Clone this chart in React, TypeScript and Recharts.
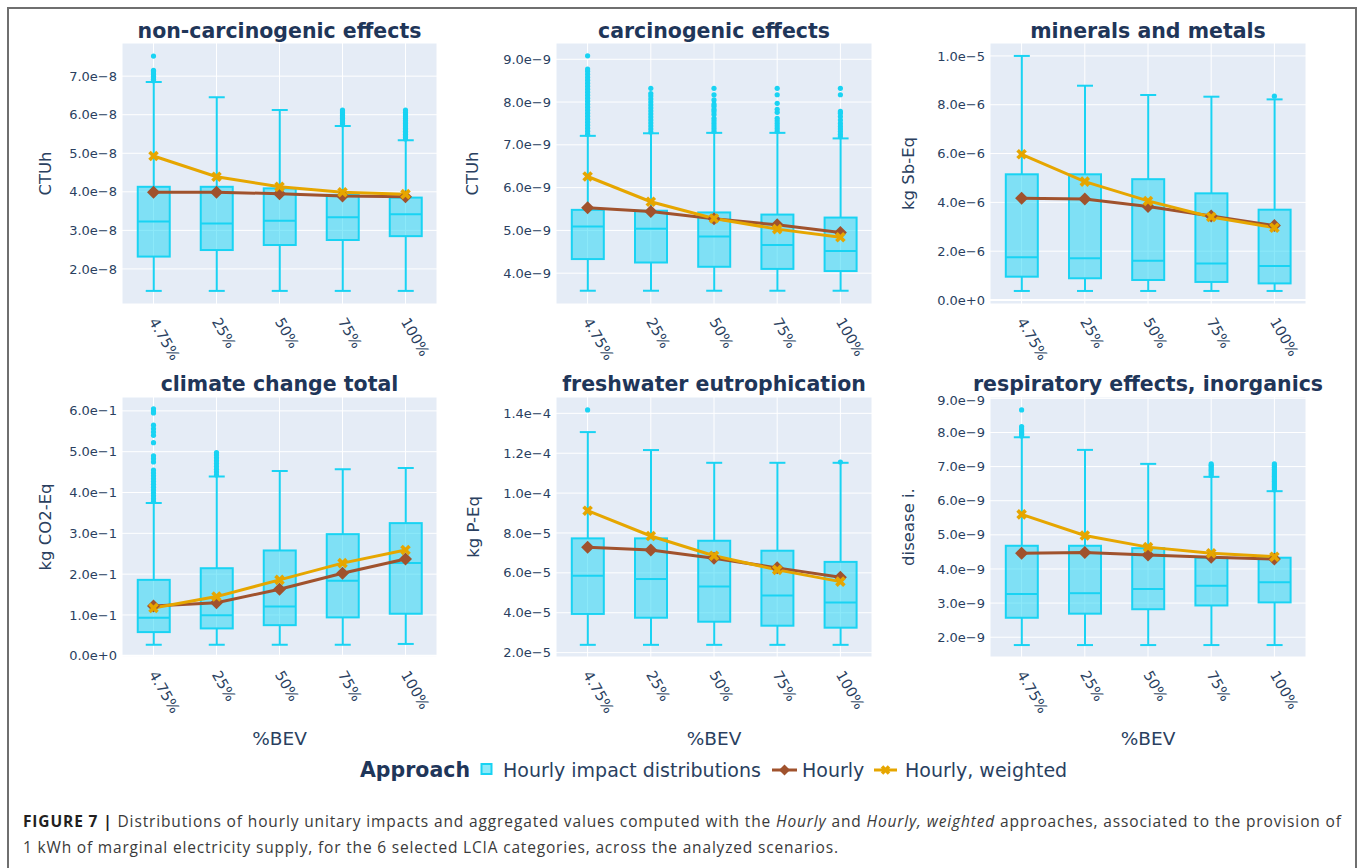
import React from "react";
import {
  Bar,
  CartesianGrid,
  ComposedChart,
  Line,
  ReferenceLine,
  Scatter,
  XAxis,
  YAxis,
} from "recharts";

const CATEGORIES = ["4.75%", "25%", "50%", "75%", "100%"];

// non-carcinogenic effects (CTUh)
const NONCARC_LOW = [1.43e-8, 1.43e-8, 1.43e-8, 1.43e-8, 1.43e-8];
const NONCARC_Q1 = [2.32e-8, 2.49e-8, 2.62e-8, 2.75e-8, 2.85e-8];
const NONCARC_MED = [3.23e-8, 3.18e-8, 3.25e-8, 3.34e-8, 3.42e-8];
const NONCARC_Q3 = [4.13e-8, 4.13e-8, 4.09e-8, 3.92e-8, 3.85e-8];
const NONCARC_HIGH = [6.85e-8, 6.45e-8, 6.12e-8, 5.71e-8, 5.34e-8];
const NONCARC_HOURLY = [3.99e-8, 3.99e-8, 3.95e-8, 3.89e-8, 3.87e-8];
const NONCARC_WEIGHTED = [4.93e-8, 4.39e-8, 4.13e-8, 3.99e-8, 3.94e-8];
const NONCARC_OUTLIERS = [
  [6.88e-8, 6.92e-8, 6.96e-8, 7.0e-8, 7.04e-8, 7.08e-8, 7.12e-8, 7.15e-8, 7.52e-8],
  [],
  [],
  [5.74e-8, 5.78e-8, 5.82e-8, 5.86e-8, 5.9e-8, 5.94e-8, 5.98e-8, 6.02e-8, 6.07e-8, 6.12e-8],
  [
    5.37e-8, 5.41e-8, 5.45e-8, 5.49e-8, 5.53e-8, 5.57e-8, 5.61e-8, 5.65e-8, 5.69e-8,
    5.73e-8, 5.77e-8, 5.81e-8, 5.85e-8, 5.9e-8, 5.95e-8, 6.0e-8, 6.06e-8, 6.12e-8,
  ],
];

// carcinogenic effects (CTUh)
const CARC_LOW = [3.59e-9, 3.59e-9, 3.59e-9, 3.59e-9, 3.59e-9];
const CARC_Q1 = [4.33e-9, 4.25e-9, 4.15e-9, 4.1e-9, 4.05e-9];
const CARC_MED = [5.09e-9, 5.04e-9, 4.86e-9, 4.66e-9, 4.52e-9];
const CARC_Q3 = [5.48e-9, 5.46e-9, 5.42e-9, 5.37e-9, 5.3e-9];
const CARC_HIGH = [7.21e-9, 7.27e-9, 7.28e-9, 7.28e-9, 7.15e-9];
const CARC_HOURLY = [5.53e-9, 5.44e-9, 5.27e-9, 5.13e-9, 4.95e-9];
const CARC_WEIGHTED = [6.26e-9, 5.67e-9, 5.28e-9, 5.03e-9, 4.84e-9];
const CARC_OUTLIERS = [
  [
    7.25e-9, 7.32e-9, 7.39e-9, 7.46e-9, 7.53e-9, 7.6e-9, 7.67e-9, 7.74e-9, 7.81e-9,
    7.88e-9, 7.95e-9, 8.02e-9, 8.09e-9, 8.16e-9, 8.23e-9, 8.3e-9, 8.37e-9, 8.44e-9,
    8.51e-9, 8.58e-9, 8.65e-9, 8.72e-9, 8.77e-9, 9.08e-9,
  ],
  [
    7.3e-9, 7.37e-9, 7.44e-9, 7.51e-9, 7.58e-9, 7.65e-9, 7.72e-9, 7.79e-9, 7.86e-9,
    7.93e-9, 8.0e-9, 8.07e-9, 8.14e-9, 8.2e-9, 8.32e-9,
  ],
  [
    7.32e-9, 7.38e-9, 7.44e-9, 7.5e-9, 7.56e-9, 7.62e-9, 7.71e-9, 7.78e-9, 7.83e-9,
    7.9e-9, 7.95e-9, 8.05e-9, 8.17e-9, 8.32e-9,
  ],
  [7.32e-9, 7.38e-9, 7.44e-9, 7.5e-9, 7.56e-9, 7.62e-9, 7.76e-9, 7.83e-9, 7.97e-9, 8.17e-9, 8.32e-9],
  [7.19e-9, 7.25e-9, 7.31e-9, 7.37e-9, 7.43e-9, 7.5e-9, 7.58e-9, 7.66e-9, 7.74e-9, 7.78e-9, 8.17e-9, 8.32e-9],
];

// minerals and metals (kg Sb-Eq)
const MIN_LOW = [0.37e-6, 0.37e-6, 0.37e-6, 0.37e-6, 0.37e-6];
const MIN_Q1 = [0.955e-6, 0.89e-6, 0.82e-6, 0.74e-6, 0.68e-6];
const MIN_MED = [1.75e-6, 1.71e-6, 1.61e-6, 1.5e-6, 1.39e-6];
const MIN_Q3 = [5.15e-6, 5.15e-6, 4.95e-6, 4.37e-6, 3.7e-6];
const MIN_HIGH = [10.0e-6, 8.78e-6, 8.4e-6, 8.33e-6, 8.22e-6];
const MIN_HOURLY = [4.17e-6, 4.14e-6, 3.83e-6, 3.44e-6, 3.05e-6];
const MIN_WEIGHTED = [5.97e-6, 4.85e-6, 4.06e-6, 3.4e-6, 2.96e-6];
const MIN_OUTLIERS = [[], [], [], [], [8.35e-6]];

// climate change total (kg CO2-Eq)
const CLIM_LOW = [0.027, 0.027, 0.027, 0.027, 0.029];
const CLIM_Q1 = [0.058, 0.067, 0.075, 0.094, 0.103];
const CLIM_MED = [0.093, 0.099, 0.121, 0.184, 0.227];
const CLIM_Q3 = [0.186, 0.2145, 0.258, 0.298, 0.325];
const CLIM_HIGH = [0.374, 0.439, 0.453, 0.457, 0.46];
const CLIM_HOURLY = [0.122, 0.13, 0.163, 0.202, 0.237];
const CLIM_WEIGHTED = [0.117, 0.145, 0.186, 0.227, 0.259];
const CLIM_OUTLIERS = [
  [
    0.378, 0.385, 0.392, 0.399, 0.406, 0.413, 0.42, 0.427, 0.434, 0.441, 0.448, 0.455,
    0.475, 0.483, 0.49, 0.522, 0.54, 0.548, 0.556, 0.565, 0.595, 0.6, 0.605,
  ],
  [0.443, 0.45, 0.457, 0.464, 0.471, 0.478, 0.485, 0.492, 0.498],
  [],
  [],
  [],
];

// freshwater eutrophication (kg P-Eq)
const FRESH_LOW = [2.39e-5, 2.39e-5, 2.39e-5, 2.39e-5, 2.39e-5];
const FRESH_Q1 = [3.94e-5, 3.75e-5, 3.55e-5, 3.35e-5, 3.25e-5];
const FRESH_MED = [5.86e-5, 5.69e-5, 5.31e-5, 4.86e-5, 4.51e-5];
const FRESH_Q3 = [7.73e-5, 7.73e-5, 7.61e-5, 7.11e-5, 6.55e-5];
const FRESH_HIGH = [13.06e-5, 12.16e-5, 11.52e-5, 11.52e-5, 11.52e-5];
const FRESH_HOURLY = [7.28e-5, 7.15e-5, 6.73e-5, 6.25e-5, 5.78e-5];
const FRESH_WEIGHTED = [9.12e-5, 7.85e-5, 6.86e-5, 6.15e-5, 5.56e-5];
const FRESH_OUTLIERS = [[14.17e-5], [], [], [], [11.56e-5]];

// respiratory effects, inorganics (disease i.)
const RESP_LOW = [1.77e-9, 1.77e-9, 1.77e-9, 1.77e-9, 1.77e-9];
const RESP_Q1 = [2.57e-9, 2.69e-9, 2.82e-9, 2.93e-9, 3.02e-9];
const RESP_MED = [3.27e-9, 3.29e-9, 3.41e-9, 3.51e-9, 3.61e-9];
const RESP_Q3 = [4.68e-9, 4.68e-9, 4.61e-9, 4.33e-9, 4.33e-9];
const RESP_HIGH = [7.86e-9, 7.49e-9, 7.08e-9, 6.7e-9, 6.28e-9];
const RESP_HOURLY = [4.46e-9, 4.48e-9, 4.41e-9, 4.34e-9, 4.29e-9];
const RESP_WEIGHTED = [5.6e-9, 4.98e-9, 4.64e-9, 4.46e-9, 4.36e-9];
const RESP_OUTLIERS = [
  [7.9e-9, 7.95e-9, 8.0e-9, 8.05e-9, 8.1e-9, 8.17e-9, 8.66e-9],
  [],
  [],
  [6.74e-9, 6.79e-9, 6.84e-9, 6.89e-9, 6.94e-9, 6.99e-9, 7.04e-9, 7.08e-9],
  [
    6.32e-9, 6.37e-9, 6.42e-9, 6.47e-9, 6.52e-9, 6.57e-9, 6.62e-9, 6.67e-9, 6.72e-9,
    6.77e-9, 6.82e-9, 6.87e-9, 6.92e-9, 6.98e-9, 7.03e-9, 7.08e-9,
  ],
];

const BOX = "#19d3f3";
const BOX_FILL = "rgba(25,211,243,0.5)";
const HOURLY = "#a0522d";
const WEIGHTED = "#e6a600";
const PLOT_BG = "#e5ecf6";
const INK = "#2a3f5f";
const TITLE_INK = "#1f3659";
const FONT = "'DejaVu Sans', Verdana, sans-serif";

const PANELS = [
  {
    title: "non-carcinogenic effects", unit: "CTUh",
    low: NONCARC_LOW, q1: NONCARC_Q1, med: NONCARC_MED, q3: NONCARC_Q3, high: NONCARC_HIGH,
    hourly: NONCARC_HOURLY, weighted: NONCARC_WEIGHTED, outliers: NONCARC_OUTLIERS,
    domain: [1.09e-8, 7.86e-8], ticks: [2e-8, 3e-8, 4e-8, 5e-8, 6e-8, 7e-8],
    left: 122, top: 43, width: 315, height: 261, labelX: 51, zero: false, xTitle: false,
  },
  {
    title: "carcinogenic effects", unit: "CTUh",
    low: CARC_LOW, q1: CARC_Q1, med: CARC_MED, q3: CARC_Q3, high: CARC_HIGH,
    hourly: CARC_HOURLY, weighted: CARC_WEIGHTED, outliers: CARC_OUTLIERS,
    domain: [3.28e-9, 9.38e-9], ticks: [4e-9, 5e-9, 6e-9, 7e-9, 8e-9, 9e-9],
    left: 556, top: 43, width: 316, height: 261, labelX: 478, zero: false, xTitle: false,
  },
  {
    title: "minerals and metals", unit: "kg Sb-Eq",
    low: MIN_LOW, q1: MIN_Q1, med: MIN_MED, q3: MIN_Q3, high: MIN_HIGH,
    hourly: MIN_HOURLY, weighted: MIN_WEIGHTED, outliers: MIN_OUTLIERS,
    domain: [-1.64e-7, 1.053e-5], ticks: [0, 2e-6, 4e-6, 6e-6, 8e-6, 1e-5],
    left: 990, top: 43, width: 316, height: 261, labelX: 913.5, zero: true, xTitle: false,
  },
  {
    title: "climate change total", unit: "kg CO2-Eq",
    low: CLIM_LOW, q1: CLIM_Q1, med: CLIM_MED, q3: CLIM_Q3, high: CLIM_HIGH,
    hourly: CLIM_HOURLY, weighted: CLIM_WEIGHTED, outliers: CLIM_OUTLIERS,
    domain: [-0.003, 0.634], ticks: [0, 0.1, 0.2, 0.3, 0.4, 0.5, 0.6],
    left: 122, top: 397, width: 315, height: 260, labelX: 51, zero: true, xTitle: true,
  },
  {
    title: "freshwater eutrophication", unit: "kg P-Eq",
    low: FRESH_LOW, q1: FRESH_Q1, med: FRESH_MED, q3: FRESH_Q3, high: FRESH_HIGH,
    hourly: FRESH_HOURLY, weighted: FRESH_WEIGHTED, outliers: FRESH_OUTLIERS,
    domain: [1.78e-5, 1.482e-4], ticks: [2e-5, 4e-5, 6e-5, 8e-5, 1e-4, 1.2e-4, 1.4e-4],
    left: 556, top: 397, width: 316, height: 260, labelX: 478.5, zero: false, xTitle: true,
  },
  {
    title: "respiratory effects, inorganics", unit: "disease i.",
    low: RESP_LOW, q1: RESP_Q1, med: RESP_MED, q3: RESP_Q3, high: RESP_HIGH,
    hourly: RESP_HOURLY, weighted: RESP_WEIGHTED, outliers: RESP_OUTLIERS,
    domain: [1.42e-9, 9.04e-9], ticks: [2e-9, 3e-9, 4e-9, 5e-9, 6e-9, 7e-9, 8e-9, 9e-9],
    left: 990, top: 397, width: 316, height: 260, labelX: 914, zero: false, xTitle: true,
  },
];

type Panel = (typeof PANELS)[number];

const fmtExp = (v: number) => v.toExponential(1).replace("-", "\u2212");

function BoxShape(props: any) {
  const { x, y, width, height, payload } = props;
  if (!payload || !height) return null;
  const [lo, hi] = payload.whisker;
  const k = height / (hi - lo);
  const py = (v: number) => y + (hi - v) * k;
  const cx = x + width / 2;
  const cap = width / 4;
  return (
    <g>
      <line x1={cx} x2={cx} y1={py(hi)} y2={py(payload.q3)} stroke={BOX} strokeWidth={2} />
      <line x1={cx} x2={cx} y1={py(payload.q1)} y2={py(lo)} stroke={BOX} strokeWidth={2} />
      <line x1={cx - cap} x2={cx + cap} y1={py(hi)} y2={py(hi)} stroke={BOX} strokeWidth={2} />
      <line x1={cx - cap} x2={cx + cap} y1={py(lo)} y2={py(lo)} stroke={BOX} strokeWidth={2} />
      <rect
        x={x}
        y={py(payload.q3)}
        width={width}
        height={py(payload.q1) - py(payload.q3)}
        fill={BOX_FILL}
        stroke={BOX}
        strokeWidth={2}
      />
      <line x1={x} x2={x + width} y1={py(payload.med)} y2={py(payload.med)} stroke={BOX} strokeWidth={2} />
    </g>
  );
}

function diamondPath(cx: number, cy: number, r: number) {
  return `M${cx},${cy - r}L${cx + r},${cy}L${cx},${cy + r}L${cx - r},${cy}Z`;
}

function DiamondDot(props: any) {
  const { cx, cy, index } = props;
  if (cx == null || cy == null) return null;
  return <path key={`dd-${index}`} d={diamondPath(cx, cy, 6.5)} fill={HOURLY} />;
}

function CrossMark({ cx, cy, s = 4 }: { cx: number; cy: number; s?: number }) {
  return (
    <g>
      <line x1={cx - s} y1={cy - s} x2={cx + s} y2={cy + s} stroke={WEIGHTED} strokeWidth={3.6} />
      <line x1={cx - s} y1={cy + s} x2={cx + s} y2={cy - s} stroke={WEIGHTED} strokeWidth={3.6} />
    </g>
  );
}

function CrossDot(props: any) {
  const { cx, cy, index } = props;
  if (cx == null || cy == null) return null;
  return <CrossMark key={`xd-${index}`} cx={cx} cy={cy} />;
}

function OutlierDot(props: any) {
  const { cx, cy } = props;
  if (cx == null || cy == null) return null;
  return <circle cx={cx} cy={cy} r={2.6} fill={BOX} />;
}

function RotatedTick(props: any) {
  const { x, y, payload } = props;
  return (
    <text
      transform={`translate(${x - 5},${y + 17.5}) rotate(60)`}
      textAnchor="start"
      fontFamily={FONT}
      fontSize={14.5}
      fill={INK}
    >
      {payload.value}
    </text>
  );
}

function BoxPanel({ p }: { p: Panel }) {
  const rows = CATEGORIES.map((cat, i) => ({
    cat,
    whisker: [p.low[i], p.high[i]],
    q1: p.q1[i],
    med: p.med[i],
    q3: p.q3[i],
    hourly: p.hourly[i],
    weighted: p.weighted[i],
  }));
  const outlierRows = CATEGORIES.flatMap((cat, i) => p.outliers[i].map((v) => ({ cat, v })));

  return (
    <div style={{ position: "absolute", left: p.left - 100, top: p.top - 5 }}>
      <ComposedChart
        width={p.width + 110}
        height={p.height + 80}
        data={rows}
        margin={{ top: 5, right: 10, bottom: 0, left: 0 }}
        barCategoryGap="25%"
      >
        <CartesianGrid stroke="#ffffff" strokeWidth={1} fill={PLOT_BG} fillOpacity={1} />
        <XAxis
          dataKey="cat"
          type="category"
          allowDuplicatedCategory={false}
          axisLine={false}
          tickLine={false}
          tickSize={0}
          tickMargin={0}
          interval={0}
          height={75}
          tick={<RotatedTick />}
        />
        <YAxis
          type="number"
          domain={p.domain}
          ticks={p.ticks}
          allowDataOverflow
          axisLine={false}
          tickLine={false}
          tickSize={0}
          tickMargin={5}
          width={100}
          tickFormatter={fmtExp}
          tick={{ fill: INK, fontSize: 13, fontFamily: FONT }}
        />
        {p.zero && <ReferenceLine y={0} stroke="#ffffff" strokeWidth={2} />}
        <Bar dataKey="whisker" shape={(props: any) => <BoxShape {...props} />} isAnimationActive={false} />
        <Scatter data={outlierRows} dataKey="v" shape={(props: any) => <OutlierDot {...props} />} isAnimationActive={false} />
        <Line
          dataKey="hourly"
          stroke={HOURLY}
          strokeWidth={3}
          dot={(props: any) => <DiamondDot {...props} />}
          activeDot={false}
          isAnimationActive={false}
        />
        <Line
          dataKey="weighted"
          stroke={WEIGHTED}
          strokeWidth={3}
          dot={(props: any) => <CrossDot {...props} />}
          activeDot={false}
          isAnimationActive={false}
        />
      </ComposedChart>
    </div>
  );
}

export default function App() {
  return (
    <div
      style={{
        position: "absolute",
        left: 0,
        top: 0,
        width: 1358,
        height: 868,
        background: "#ffffff",
        overflow: "hidden",
      }}
    >
      <div
        style={{
          position: "absolute",
          left: 7,
          top: 7,
          width: 1346,
          height: 900,
          borderTop: "2px solid #6f6f6f",
          borderLeft: "2px solid #6f6f6f",
          borderRight: "2px solid #6f6f6f",
        }}
      />
      {PANELS.map((p) => (
        <BoxPanel key={p.title} p={p} />
      ))}
      <svg
        width={1358}
        height={868}
        style={{ position: "absolute", left: 0, top: 0, pointerEvents: "none" }}
      >
        {PANELS.map((p) => {
          const cx = p.left + p.width / 2;
          const cy = p.top + p.height / 2;
          return (
            <g key={p.title}>
              <text
                x={cx}
                y={p.top < 100 ? 37.5 : 391}
                textAnchor="middle"
                fontFamily={FONT}
                fontWeight="bold"
                fontSize={20.5}
                fill={TITLE_INK}
              >
                {p.title}
              </text>
              <text
                transform={`translate(${p.labelX},${cy}) rotate(-90)`}
                textAnchor="middle"
                fontFamily={FONT}
                fontSize={16.5}
                fill={INK}
              >
                {p.unit}
              </text>
              {p.xTitle && (
                <text x={cx} y={745} textAnchor="middle" fontFamily={FONT} fontSize={18.5} fill={INK}>
                  %BEV
                </text>
              )}
            </g>
          );
        })}

        <g fontFamily={FONT}>
          <text x={360} y={777} fontWeight="bold" fontSize={20.5} fill={TITLE_INK}>
            Approach
          </text>
          <rect x={481.5} y={764} width={10} height={10} fill={BOX_FILL} stroke={BOX} strokeWidth={2} />
          <text x={503} y={777} fontSize={19} fill={INK}>
            Hourly impact distributions
          </text>
          <line x1={772} x2={797} y1={770} y2={770} stroke={HOURLY} strokeWidth={3} />
          <path d={diamondPath(784.5, 770, 5.5)} fill={HOURLY} />
          <text x={802} y={777} fontSize={19} fill={INK}>
            Hourly
          </text>
          <line x1={874} x2={897} y1={770} y2={770} stroke={WEIGHTED} strokeWidth={3} />
          <CrossMark cx={885.5} cy={770} s={3.5} />
          <text x={905} y={777} fontSize={19} fill={INK}>
            Hourly, weighted
          </text>
        </g>

        <g fontFamily="'Open Sans', 'Liberation Sans', Arial, sans-serif" fontSize={15.5} fill="#3a3a3a">
          <text x={23} y={826.5} textLength={1318} lengthAdjust="spacing">
            <tspan fontWeight="bold" fill="#231f20">FIGURE 7 | </tspan>
            <tspan>Distributions of hourly unitary impacts and aggregated values computed with the </tspan>
            <tspan fontStyle="italic">Hourly</tspan>
            <tspan> and </tspan>
            <tspan fontStyle="italic">Hourly, weighted</tspan>
            <tspan> approaches, associated to the provision of</tspan>
          </text>
          <text x={23} y={853} textLength={815} lengthAdjust="spacing">
            1 kWh of marginal electricity supply, for the 6 selected LCIA categories, across the analyzed scenarios.
          </text>
        </g>
      </svg>
    </div>
  );
}
